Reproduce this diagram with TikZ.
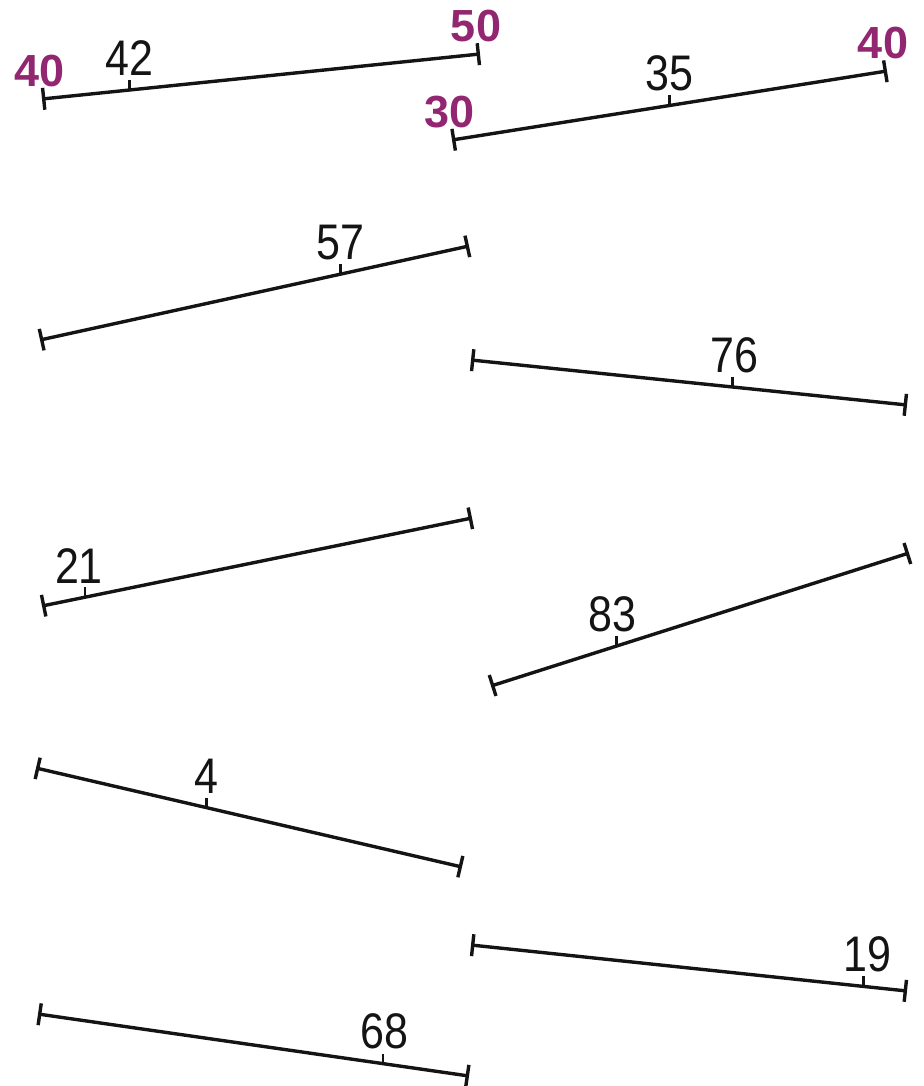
\documentclass[tikz,border=0pt]{standalone}
\usepackage{fontspec}
\usepackage{xcolor}
\usepackage{tikz}
\usetikzlibrary{arrows.meta}
\setmainfont{Liberation Sans}
\newfontfamily\numfont[FakeStretch=0.86]{Liberation Sans}
\colorlet{lineink}{black!92}
\definecolor{endink}{RGB}{146,38,112}
\tikzset{
    numline/.style={
        {Bar[width=11pt]}-{Bar[width=11pt]}, line width=1.7pt, draw=lineink
    },
    tickmark/.style={line width=1.2pt, draw=lineink},
    ticklbl/.style={
        anchor=south, inner sep=1.5pt, text=lineink,
        font=\numfont\fontsize{25}{25}\selectfont
    },
    endlbl/.style={
        anchor=south, inner sep=0pt, yshift=6pt, text=endink,
        font=\bfseries\fontsize{22.5}{22.5}\selectfont
    }
}

\begin{document}
\begin{tikzpicture}[x=0.5pt, y=-0.5pt]
    \useasboundingbox (0,0) rectangle (923,1086);
    % worked example, left: 40 to 50
    \coordinate (a1) at (42,99);
    \coordinate (a2) at (480,54);
    \draw[numline] (a1) -- (a2) coordinate[pos=0.2] (at);
    \draw[tickmark] (at) -- ++(0,-10) node[ticklbl] {42};
    \node[endlbl] (a1l) at ([xshift=-1pt]a1) {40};
    \node[endlbl] (a2l) at ([xshift=-2pt]a2) {50};
    % worked example, right: 30 to 40
    \coordinate (b1) at (452,140);
    \coordinate (b2) at (887,71);
    \draw[numline] (b1) -- (b2) coordinate[pos=0.5] (bt);
    \draw[tickmark] (bt) -- ++(0,-10) node[ticklbl] {35};
    \node[endlbl] (b1l) at ([xshift=-1pt]b1) {30};
    \node[endlbl] (b2l) at ([xshift=-2pt]b2) {40};
    % exercises, left column
    \coordinate (c1) at (40,340);
    \coordinate (c2) at (469,246);
    \draw[numline] (c1) -- (c2) coordinate[pos=0.7] (ct);
    \draw[tickmark] (ct) -- ++(0,-10) node[ticklbl] {57};
    \coordinate (e1) at (42,606);
    \coordinate (e2) at (472,518);
    \draw[numline] (e1) -- (e2) coordinate[pos=0.1] (et);
    \draw[tickmark] (et) -- ++(0,-10) node[ticklbl, xshift=-3pt] {21};
    \coordinate (g1) at (36,768);
    \coordinate (g2) at (462,867);
    \draw[numline] (g1) -- (g2) coordinate[pos=0.4] (gt);
    \draw[tickmark] (gt) -- ++(0,-10) node[ticklbl] {4};
    \coordinate (i1) at (38,1014);
    \coordinate (i2) at (469,1076);
    \draw[numline] (i1) -- (i2) coordinate[pos=0.8] (it);
    \draw[tickmark] (it) -- ++(0,-10) node[ticklbl, xshift=1pt] {68};
    % exercises, right column
    \coordinate (d1) at (471,360);
    \coordinate (d2) at (907,405);
    \draw[numline] (d1) -- (d2) coordinate[pos=0.6] (dt);
    \draw[tickmark] (dt) -- ++(0,-10) node[ticklbl, xshift=1pt] {76};
    \coordinate (f1) at (491,686);
    \coordinate (f2) at (909,553);
    \draw[numline] (f1) -- (f2) coordinate[pos=0.3] (ft);
    \draw[tickmark] (ft) -- ++(0,-10) node[ticklbl, xshift=-2pt] {83};
    \coordinate (h1) at (471,945);
    \coordinate (h2) at (907,991);
    \draw[numline] (h1) -- (h2) coordinate[pos=0.9] (ht);
    \draw[tickmark] (ht) -- ++(0,-10) node[ticklbl, xshift=2pt] {19};
\end{tikzpicture}
\end{document}
